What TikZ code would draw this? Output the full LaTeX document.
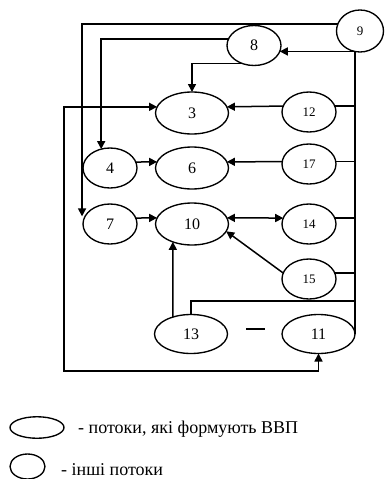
\documentclass[tikz,border=0pt]{standalone}
\usepackage{fontspec}
\setmainfont{Liberation Serif}
\usetikzlibrary{shapes.geometric,arrows.meta}
\begin{document}
\begin{tikzpicture}[x=1pt,y=-1pt,
  base/.style={ellipse,draw,line width=1.35pt,inner sep=0pt,outer sep=0pt},
  big/.style={base,minimum width=73pt,minimum height=42pt,font=\fontsize{16}{16}\selectfont},
  small/.style={base,minimum width=54pt,minimum height=40pt,font=\fontsize{13}{13}\selectfont},
  mid/.style={small,font=\fontsize{16}{16}\selectfont},
  ln/.style={line width=1.5pt},
  arr/.style={ln,-{Triangle[length=8pt,width=8pt]}},
  darr/.style={ln,{Triangle[length=8pt,width=8pt]}-{Triangle[length=8pt,width=8pt]}},
  lbl/.style={font=\fontsize{18}{18}\selectfont,inner sep=0pt,anchor=base west}]
\useasboundingbox (0,0) rectangle (384,479);

% nodes
\node[small,minimum width=47pt,minimum height=42pt] (n9) at (360,31) {9};
\node[mid] (n8) at (254,45.5) {8};
\node[big] (n3) at (192,113) {3};
\node[small] (n12) at (309,112) {12};
\node[mid] (n4) at (110,168) {4};
\node[big] (n6) at (192,168) {6};
\node[small] (n17) at (309,164) {17};
\node[mid] (n7) at (110,224) {7};
\node[big] (n10) at (192,224) {10};
\node[small] (n14) at (309,224) {14};
\node[small] (n15) at (309,279) {15};
\node[big,minimum height=39pt] (n13) at (191,334) {13};
\node[big,minimum height=39pt] (n11) at (318.5,334) {11};

\coordinate (cL) at (64,371);
\coordinate (j13) at (355,301);
\coordinate (dA) at (246,329);
\coordinate (dB) at (265,329);

% connectors
\draw[arr] (n9.162) -| ([xshift=-3pt]n7.163);
\draw[arr] (n8.166) -| (n4.115);
\draw[arr] (n8.236) -| (n3.north);
\draw[darr] (n3.170) -| (cL) -| (n11.south);

\draw[ln] (n9.256) -- (n9.256 |- n11.east);
\draw[arr] (n9.256 |- n8.-13) -- (n8.-13);
\draw[ln] (n12.13) -- (n12.13 -| n9.256);
\draw[ln] (n17.5) -- (n17.5 -| n9.256);
\draw[ln] (n14.13) -- (n14.13 -| n9.256);
\draw[ln] (n15.13) -- (n15.13 -| n9.256);
\draw[ln] (j13) -| (n13.north);

\draw[arr] (n4.13) -- (n6.170);
\draw[arr] (n7.13) -- (n10.170);
\draw[arr] (n12.167) -- (n3.10);
\draw[arr] (n17.175) -- (n6.10);
\draw[darr] (n14.167) -- (n10.10);
\draw[arr] (n15.167) -- (n10.-12);
\draw[arr] (n13.137) -- (n10.223);

\draw[ln] (dA) -- (dB);

% legend
\node[base,minimum width=54pt,minimum height=21.5pt] (lg1) at (37,427.5) {};
\node[lbl] (t1) at (78,433) {- потоки, які формують ВВП};
\node[base,minimum width=35pt,minimum height=25pt] (lg2) at (27.5,466.5) {};
\node[lbl] (t2) at (61,475) {- інші потоки};
\end{tikzpicture}
\end{document}
